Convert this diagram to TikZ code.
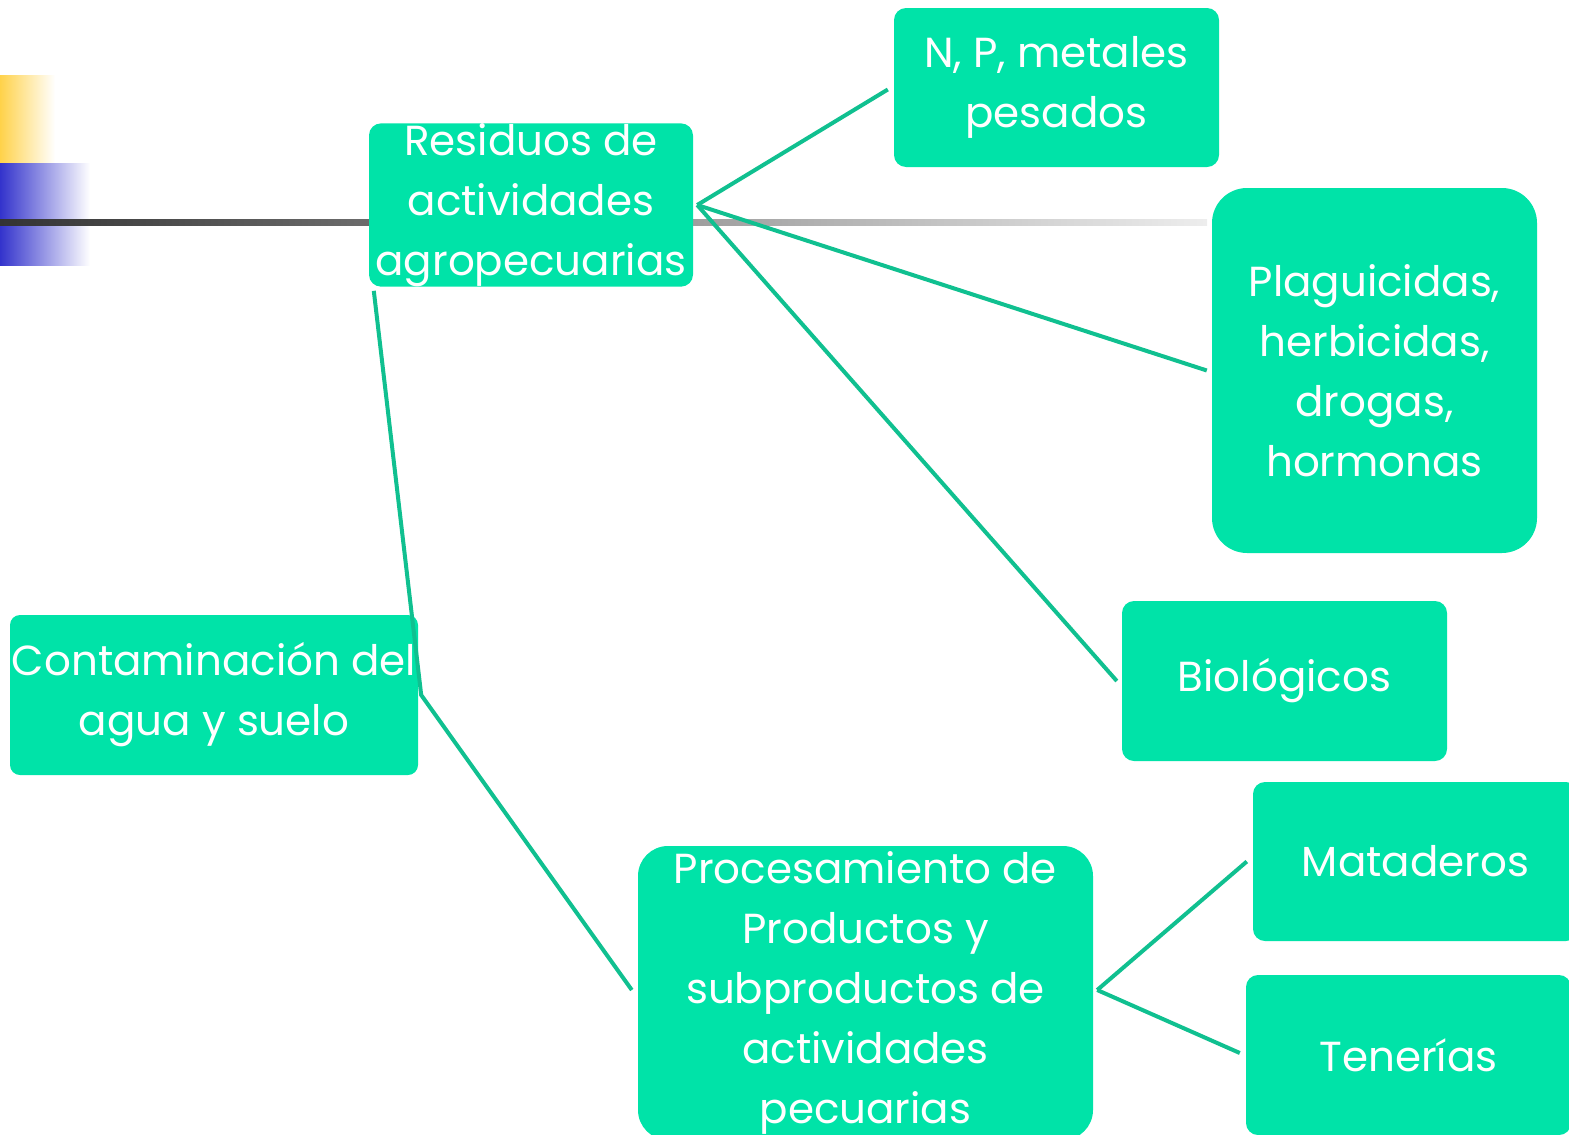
\documentclass[tikz,border=0pt]{standalone}
\usepackage{fontspec}
\setmainfont{Poppins}
\usetikzlibrary{calc}
\definecolor{boxgreen}{HTML}{00E3A8}
\definecolor{linegreen}{HTML}{10C090}
\definecolor{decyellow}{HTML}{FFD24A}
\definecolor{decblue}{HTML}{3333CC}
\tikzset{
  box/.style={fill=boxgreen, draw=none, text=white, align=center, inner sep=0pt,
    font=\fontsize{42}{60}\selectfont},
  conn/.style={draw=linegreen, line width=4pt}
}
\begin{document}
\begin{tikzpicture}[x=1pt,y=-1pt]
\useasboundingbox (0,0) rectangle (1569,1135);
% decorations
\shade[left color=decyellow, right color=white] (0,75) rectangle (55,163);
\shade[left color=decblue, right color=white] (0,163) rectangle (90,265);
\shade[left color=black!80, right color=black!7] (0,219) rectangle (1207,225);
% boxes
\node[box, minimum width=324, minimum height=160, rounded corners=12] (res) at (531,205) {Residuos de\\actividades\\agropecuarias};
\node[box, minimum width=325, minimum height=159, rounded corners=12] (np) at (1056.5,87.5) {N, P, metales\\pesados};
\node[box, minimum width=325, minimum height=365, rounded corners=35] (plag) at (1374.5,370.5) {Plaguicidas,\\herbicidas,\\drogas,\\hormonas};
\node[box, minimum width=325, minimum height=160, rounded corners=12] (bio) at (1284.5,681) {Biológicos};
\node[box, minimum width=408, minimum height=160, rounded corners=10] (cont) at (214,695) {Contaminación del\\agua y suelo};
\node[box, minimum width=455, minimum height=294, rounded corners=30] (proc) at (865.5,993) {Procesamiento de\\Productos y\\subproductos de\\actividades\\pecuarias};
\node[box, minimum width=325, minimum height=159, rounded corners=12] (mat) at (1415.5,861.5) {Mataderos};
\node[box, minimum width=325, minimum height=160, rounded corners=12] (ten) at (1408.5,1055) {Tenerías};
% connectors
\coordinate (hub1) at ($(res.east)+(4,0)$);
\draw[conn] (hub1) -- ($(np.west)+(-6,2)$);
\draw[conn] (hub1) -- ($(plag.west)+(-5,0)$);
\draw[conn] (hub1) -- ($(bio.west)+(-5,0)$);
\coordinate (hub2) at ($(cont.east)+(3,0)$);
\draw[conn] ($(res.south west)+(5,4)$) -- (hub2) -- ($(proc.west)+(-6,-3)$);
\coordinate (hub3) at ($(proc.east)+(4,-3)$);
\draw[conn] (hub3) -- ($(mat.west)+(-6,0)$);
\draw[conn] (hub3) -- ($(ten.west)+(-6,-2)$);
\end{tikzpicture}
\end{document}
